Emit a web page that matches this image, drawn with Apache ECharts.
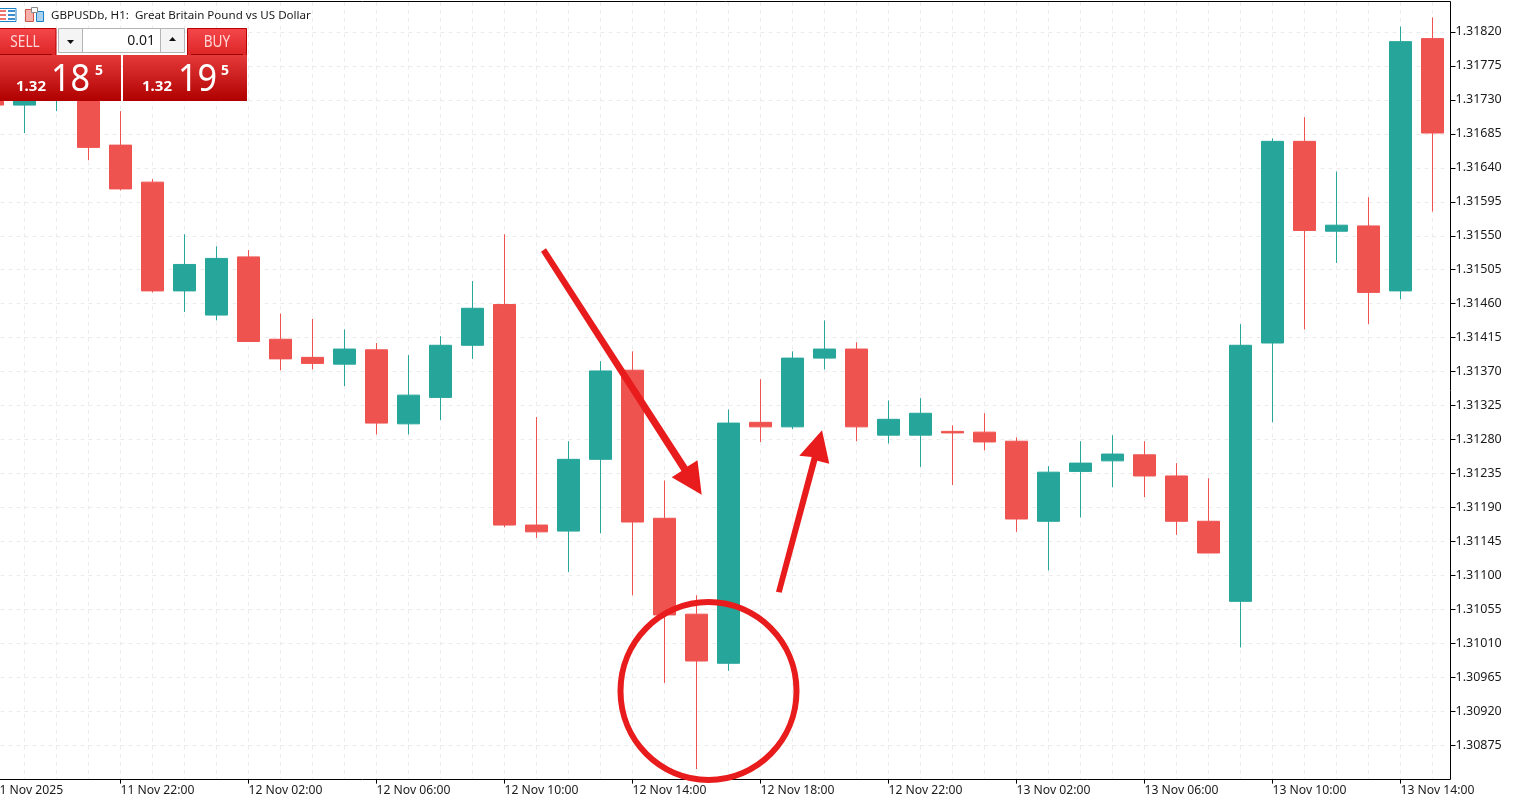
<!DOCTYPE html>
<html>
<head>
<meta charset="utf-8">
<style>
  html, body { margin: 0; padding: 0; background: #fff; }
  #main { width: 1518px; height: 801px; }
</style>
<script src="https://cdn.jsdelivr.net/npm/echarts@6/dist/echarts.min.js"></script>
</head>
<body>
<div id="main"></div>
<script>
// hourly bars, first one sits almost off screen
var times = [
  '11 Nov 2025', '11 Nov 19:00', '11 Nov 20:00', '11 Nov 21:00', '11 Nov 22:00', '11 Nov 23:00',
  '12 Nov 00:00', '12 Nov 01:00', '12 Nov 02:00', '12 Nov 03:00', '12 Nov 04:00', '12 Nov 05:00',
  '12 Nov 06:00', '12 Nov 07:00', '12 Nov 08:00', '12 Nov 09:00', '12 Nov 10:00', '12 Nov 11:00',
  '12 Nov 12:00', '12 Nov 13:00', '12 Nov 14:00', '12 Nov 15:00', '12 Nov 16:00', '12 Nov 17:00',
  '12 Nov 18:00', '12 Nov 19:00', '12 Nov 20:00', '12 Nov 21:00', '12 Nov 22:00', '12 Nov 23:00',
  '13 Nov 00:00', '13 Nov 01:00', '13 Nov 02:00', '13 Nov 03:00', '13 Nov 04:00', '13 Nov 05:00',
  '13 Nov 06:00', '13 Nov 07:00', '13 Nov 08:00', '13 Nov 09:00', '13 Nov 10:00', '13 Nov 11:00',
  '13 Nov 12:00', '13 Nov 13:00', '13 Nov 14:00', '13 Nov 15:00'
];
var opens = [
  1.31749, 1.31723, 1.31729, 1.31756, 1.31670, 1.31621, 1.31477, 1.31445, 1.31522, 1.31413,
  1.31389, 1.31380, 1.31399, 1.31301, 1.31336, 1.31405, 1.31459, 1.31167, 1.31159, 1.31254,
  1.31372, 1.31176, 1.31049, 1.30984, 1.31303, 1.31297, 1.31388, 1.31400, 1.31286, 1.31286,
  1.31291, 1.31290, 1.31278, 1.31172, 1.31238, 1.31252, 1.31260, 1.31232, 1.31172, 1.31066,
  1.31408, 1.31675, 1.31556, 1.31563, 1.31477, 1.31811
];
var closes = [
  1.31723, 1.31736, 1.31756, 1.31667, 1.31612, 1.31477, 1.31512, 1.31520, 1.31410, 1.31387,
  1.31381, 1.31400, 1.31302, 1.31339, 1.31405, 1.31454, 1.31167, 1.31158, 1.31254, 1.31371,
  1.31171, 1.31048, 1.30987, 1.31302, 1.31297, 1.31388, 1.31400, 1.31297, 1.31307, 1.31315,
  1.31289, 1.31277, 1.31175, 1.31237, 1.31249, 1.31261, 1.31232, 1.31172, 1.31130, 1.31405,
  1.31675, 1.31557, 1.31564, 1.31475, 1.31807, 1.31686
];
var lows = [
  1.31723, 1.31686, 1.31715, 1.31650, 1.31610, 1.31475, 1.31449, 1.31438, 1.31410, 1.31372,
  1.31373, 1.31351, 1.31287, 1.31287, 1.31306, 1.31387, 1.31164, 1.31150, 1.31105, 1.31156,
  1.31074, 1.30958, 1.30844, 1.30974, 1.31277, 1.31294, 1.31373, 1.31278, 1.31275, 1.31244,
  1.31220, 1.31266, 1.31158, 1.31107, 1.31177, 1.31217, 1.31204, 1.31154, 1.31130, 1.31005,
  1.31303, 1.31426, 1.31514, 1.31433, 1.31466, 1.31582
];
var highs = [
  1.31759, 1.31743, 1.31766, 1.31769, 1.31715, 1.31625, 1.31552, 1.31536, 1.31531, 1.31447,
  1.31440, 1.31426, 1.31408, 1.31392, 1.31417, 1.31490, 1.31552, 1.31310, 1.31278, 1.31384,
  1.31397, 1.31226, 1.31074, 1.31320, 1.31360, 1.31397, 1.31438, 1.31409, 1.31332, 1.31335,
  1.31299, 1.31315, 1.31283, 1.31245, 1.31278, 1.31286, 1.31278, 1.31249, 1.31229, 1.31433,
  1.31679, 1.31707, 1.31635, 1.31601, 1.31827, 1.31839
];
var symbolName = 'GBPUSDb, H1:  Great Britain Pound vs US Dollar';
var lotSize = '0.01';
var sellQuote = ['1.32', '18', '5'];
var buyQuote = ['1.32', '19', '5'];

var UP = '#26a69a';
var DOWN = '#ef5350';
var MARK = '#e81c1c';
var FONT = '"Noto Sans", sans-serif';

var candles = [];
for (var i = 0; i < times.length; i++) {
  candles.push([opens[i], closes[i], lows[i], highs[i]]);
}

function grad(top, bottom) {
  return new echarts.graphic.LinearGradient(0, 0, 0, 1, [
    { offset: 0, color: top },
    { offset: 1, color: bottom }
  ]);
}
function box(x, y, w, h, fill, stroke) {
  return {
    type: 'rect', z: 100,
    shape: { x: x, y: y, width: w, height: h },
    style: { fill: fill, stroke: stroke || null, lineWidth: stroke ? 1 : 0 }
  };
}
function label(x, y, str, size, color, weight, align, sx) {
  return {
    type: 'text', z: 101, x: x, y: y, scaleX: sx || 1,
    style: {
      text: str, fill: color, align: align || 'left', verticalAlign: 'middle',
      font: (weight || 'normal') + ' ' + size + 'px ' + FONT
    }
  };
}
function poly(points, fill) {
  return { type: 'polygon', z: 102, shape: { points: points }, style: { fill: fill } };
}

// trade panel, header icons, frame and the hand drawn marks
function overlay() {
  var g = [];
  // chart frame, ends at 1450 while the bands end at 1448
  g.push({
    type: 'polyline', z: 50,
    shape: { points: [[0, 1.5], [1450.5, 1.5], [1450.5, 779.5], [0, 779.5]] },
    style: { stroke: '#000', lineWidth: 1, fill: null }
  });

  // icons next to the title
  g.push(box(-1, 8.5, 17, 13, '#fff', '#1d7fc4'));
  for (var r = 0; r < 3; r++) {
    g.push(box(0, 10 + r * 4, 6, 2, '#f0746c'));
    g.push(box(8, 10 + r * 4, 7, 2, '#3d8fd0'));
  }
  g.push(box(25.5, 9.5, 8, 12, '#f6b0a8', '#d0564c'));
  g.push(box(36.5, 11.5, 7, 10, '#a8d2ee', '#1d7fc4'));
  g.push(box(31.5, 7.5, 6, 5, '#fff', '#8a8a8a'));
  g.push(label(51, 16, symbolName, 11.6, '#1a1a1a'));

  // sell / buy buttons
  g.push(box(-1, 28.5, 57, 27, grad('#f5484c', '#dc2424'), '#b80000'));
  g.push(box(187.5, 28.5, 59, 27, grad('#f5484c', '#dc2424'), '#b80000'));
  g.push(box(0, 54, 52, 1, '#9e0000'));
  g.push(box(191, 54, 52, 1, '#9e0000'));
  g.push(label(25, 42, 'SELL', 16, '#ffd6d6', 'normal', 'center', 0.85));
  g.push(label(217, 42, 'BUY', 16, '#ffd6d6', 'normal', 'center', 0.85));

  // lot size spinner
  g.push(box(58.5, 28.5, 126, 24, '#f4f4f4', '#b4b4b8'));
  g.push(box(82.5, 28.5, 78, 24, '#fff', '#b4b4b8'));
  g.push(poly([[67, 40], [74, 40], [70.5, 44]], '#111'));
  g.push(poly([[169, 41], [176, 41], [172.5, 37]], '#111'));
  g.push(label(155, 41.5, lotSize, 14, '#1a1a1a', 'normal', 'right'));

  // quote boxes
  g.push(box(0, 55, 121, 46, grad('#e53a3a', '#b00000')));
  g.push(box(123, 55, 124, 46, grad('#e53a3a', '#b00000')));
  g.push(label(16, 87, sellQuote[0], 15, '#fff', 'bold'));
  g.push(label(51, 80.5, sellQuote[1], 38, '#fff', 'normal', 'left', 0.9));
  g.push(label(95, 71, sellQuote[2], 14, '#fff', 'bold'));
  g.push(label(142, 87, buyQuote[0], 15, '#fff', 'bold'));
  g.push(label(178, 80.5, buyQuote[1], 38, '#fff', 'normal', 'left', 0.9));
  g.push(label(221, 71, buyQuote[2], 14, '#fff', 'bold'));

  // arrows and the circle around the low
  g.push(poly([[541, 251.7], [546, 248.3], [687.5, 466.5], [697.5, 460.3], [701.7, 494.7], [671.7, 477.3], [681.5, 471]], MARK));
  g.push(poly([[776, 591.7], [781.7, 592.7], [817.3, 460.7], [829.3, 463.7], [822, 430.2], [799.3, 455.7], [811.7, 457]], MARK));
  g.push({
    type: 'ellipse', z: 102,
    shape: { cx: 708.5, cy: 691, rx: 88, ry: 89 },
    style: { fill: null, stroke: MARK, lineWidth: 6 }
  });
  return g;
}

var chart = echarts.init(document.getElementById('main'));
chart.setOption({
  animation: false,
  backgroundColor: '#fff',
  grid: { left: -23.5, width: 1472, top: 1.6, bottom: 21.4, containLabel: false, outerBoundsMode: 'none' },
  xAxis: {
    type: 'category',
    data: times,
    boundaryGap: true,
    axisLine: { show: false },
    axisTick: { show: true, interval: 3, alignWithLabel: true, length: 4, lineStyle: { color: '#000' } },
    axisLabel: {
      interval: 3, align: 'left', margin: 5, color: '#1a1a1a',
      fontFamily: FONT, fontSize: 12.2, hideOverlap: false
    },
    splitLine: {
      show: true, interval: 0, alignWithLabel: true,
      lineStyle: { color: '#ececec', type: [4, 4], width: 1 }
    }
  },
  yAxis: {
    type: 'value',
    position: 'right',
    offset: 2,
    min: 1.3083,
    max: 1.3186,
    interval: 0.00045,
    axisLine: { show: false },
    axisTick: { show: true, length: 5, lineStyle: { color: '#000' } },
    axisLabel: {
      showMinLabel: false, showMaxLabel: false, margin: 5, color: '#1a1a1a',
      fontFamily: FONT, fontSize: 12.5, padding: [2, 0, 0, 0],
      formatter: function (v) { return v.toFixed(5); }
    },
    splitLine: { show: true, lineStyle: { color: '#ececec', type: [4, 4], width: 1 } }
  },
  series: [{
    type: 'candlestick',
    data: candles,
    barWidth: 22,
    itemStyle: { color: UP, color0: DOWN, borderColor: UP, borderColor0: DOWN, borderWidth: 1 }
  }],
  graphic: overlay()
});
</script>
</body>
</html>
